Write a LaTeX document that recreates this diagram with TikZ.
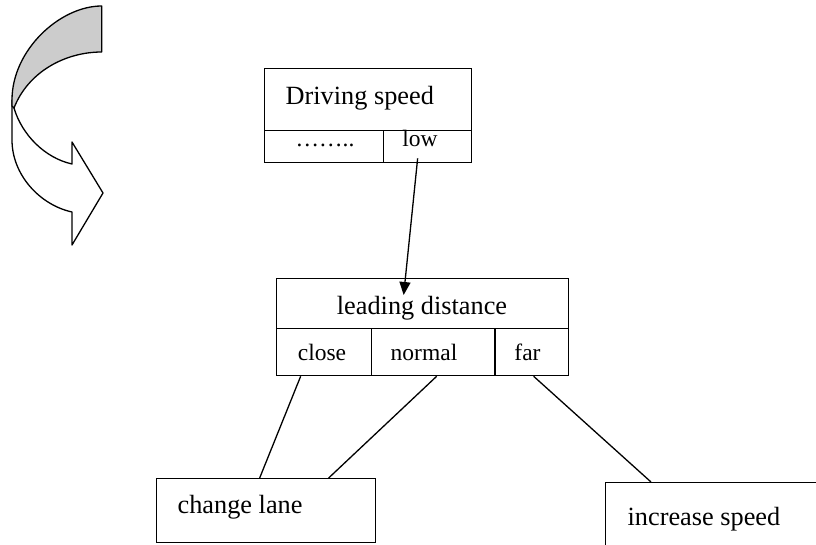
\documentclass[tikz,border=0pt]{standalone}
\usepackage{fontspec}
\setmainfont{Liberation Serif}
\usetikzlibrary{arrows.meta,calc}
\begin{document}
\begin{tikzpicture}[x=1pt,y=-1pt,line width=1.3pt,
  box/.style={draw, rectangle, inner sep=0pt, anchor=north west, line width=1.3pt},
  bigl/.style={font=\fontsize{26.3}{30}\selectfont, inner sep=0pt, anchor=base west},
  bigc/.style={font=\fontsize{26.3}{30}\selectfont, inner sep=0pt, anchor=base},
  small/.style={font=\fontsize{23.5}{27}\selectfont, inner sep=0pt, anchor=base},
  link/.style={draw, line width=1.3pt},
  arr/.style={link, -{Triangle[length=13pt,width=11pt]}},
  curvearrow/.style={draw, line width=1.3pt, line join=round}
]
\useasboundingbox (0,0) rectangle (816,545);
\clip (0,0) rectangle (816,545);

% curved arrow
\path[curvearrow, fill=white] (14,108) .. controls (22,135) and (45,158) .. (72,164)
  -- (72,142) -- (103,193) -- (72,245) -- (72,212)
  .. controls (40,205) and (12,175) .. (12,140) -- (12,100) -- cycle;
\path[curvearrow, fill={rgb,255:red,204;green,204;blue,204}] (101.7,6) .. controls (60,6) and (12,50) .. (12,100)
  -- (12,106) -- (14,108) .. controls (28,72) and (65,52) .. (101.7,52) -- cycle;

% top box
\node[box, minimum width=207pt, minimum height=62pt] (dsbox) at (264,68) {};
\node[box, minimum width=119pt, minimum height=32pt] (dotcell) at (264,130) {};
\node[box, minimum width=88pt, minimum height=32pt] (lowcell) at (383,130) {};
\node[bigl] (dstext) at (285,105) {Driving speed};
\node[small] (dots) at (325,147) {……..};
\node[small] (low) at (420,147) {low};

% middle box
\node[box, minimum width=292pt, minimum height=50pt] (ldbox) at (276,278) {};
\node[box, minimum width=95pt, minimum height=47pt] (closecell) at (276,328) {};
\node[box, minimum width=124pt, minimum height=47pt] (normalcell) at (371,328) {};
\node[box, minimum width=73pt, minimum height=47pt] (farcell) at (495,328) {};
\draw[line width=2.8pt] (farcell.north west) -- (farcell.south west);
\node[bigc] (ldtext) at (422,314) {leading distance};
\node[small] (close) at (322,360) {close};
\node[small] (normal) at (424,360) {normal};
\node[small] (far) at (527.5,360) {far};

% bottom boxes
\node[box, minimum width=219pt, minimum height=64pt] (clbox) at (156,478) {};
\node[bigl] (cltext) at (177,513) {change lane};
\node[box, minimum width=240pt, minimum height=90pt] (isbox) at (605,482) {};
\node[bigl] (istext) at (627,525) {increase speed};

% connectors
\draw[arr] ($(lowcell.south)+(-10,-5)$) -- ($(ldbox.north)+(-19,17)$);
\draw[link] ($(closecell.south)+(-23.5,0)$) -- ($(clbox.north)+(-6.5,0)$);
\draw[link] ($(normalcell.south)+(3,0)$) -- ($(clbox.north)+(62.5,0)$);
\draw[link] ($(farcell.south)+(1.5,0)$) -- ($(isbox.north west)+(46,0)$);
\end{tikzpicture}
\end{document}
